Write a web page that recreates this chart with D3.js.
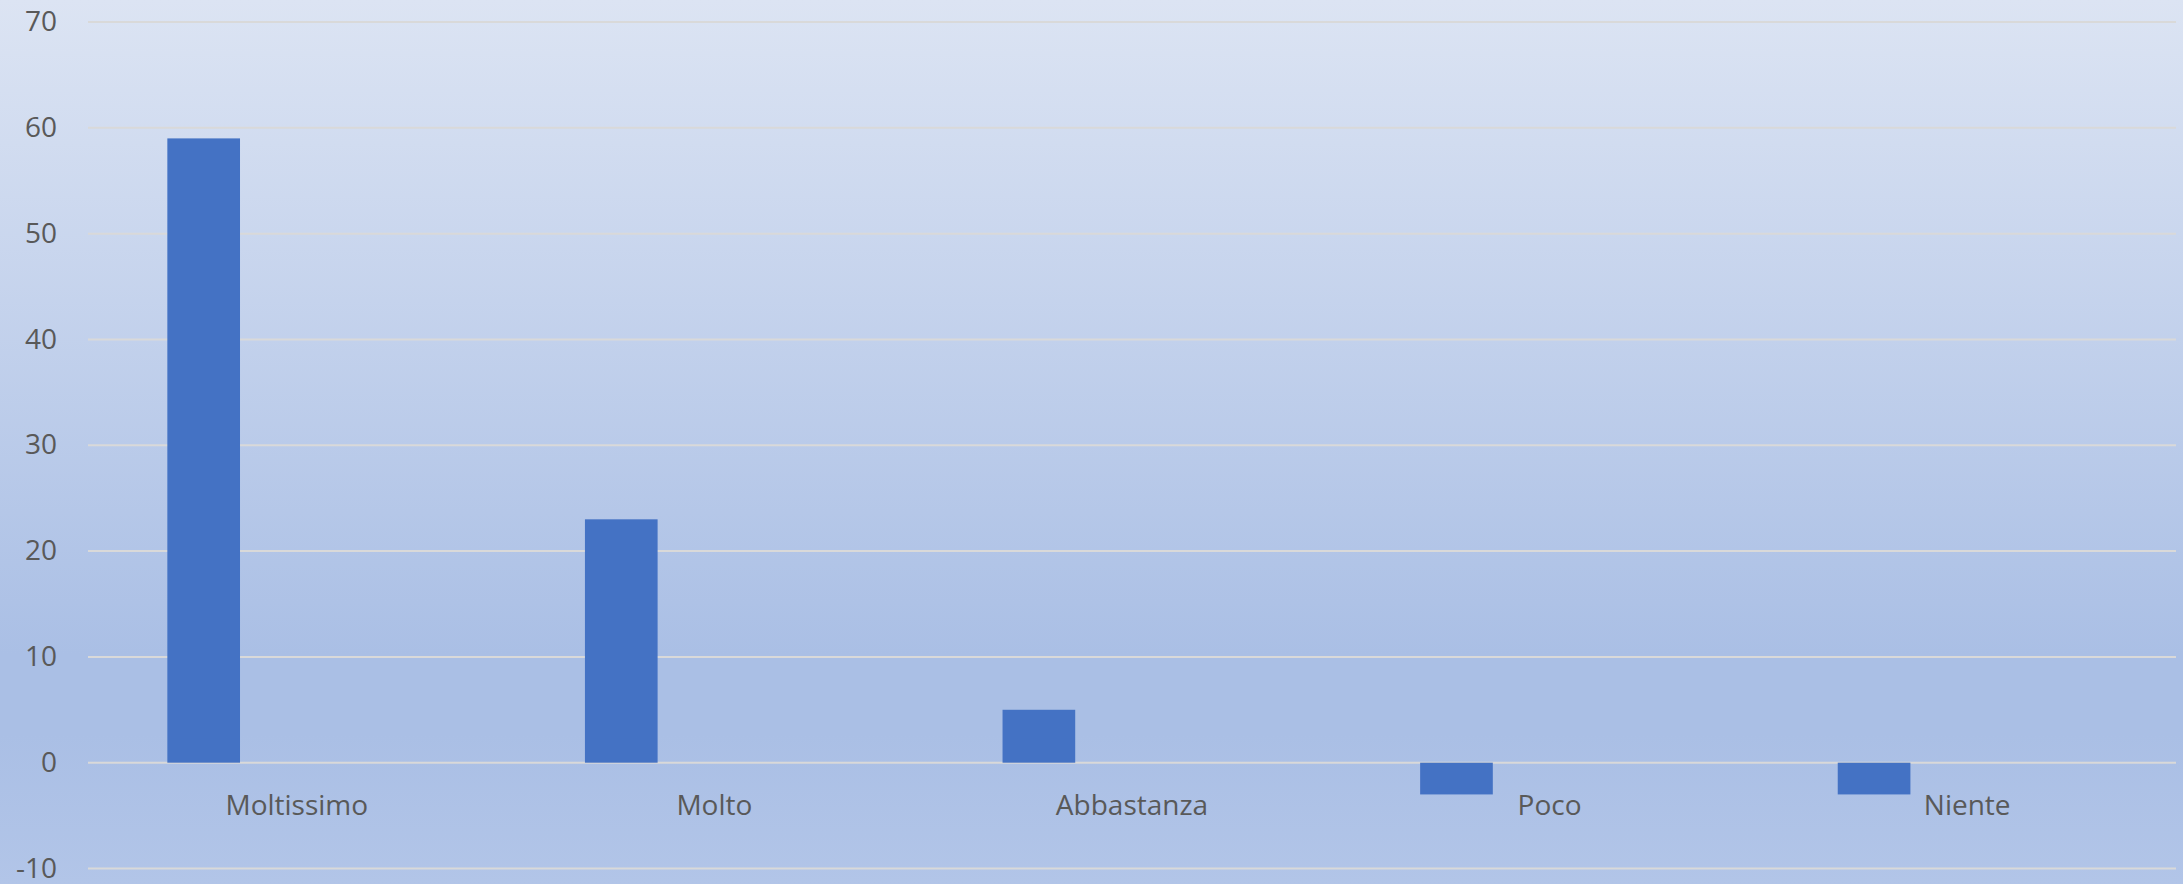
<!DOCTYPE html>
<html>
<head>
<meta charset="utf-8">
<script src="https://cdn.jsdelivr.net/npm/d3@7"></script>
<style>
  html, body { margin: 0; padding: 0; background: #fff; }
  svg { display: block; }
</style>
</head>
<body>
<svg id="chart" width="2183" height="884"></svg>
<script>
const categories = ["Moltissimo", "Molto", "Abbastanza", "Poco", "Niente"];
const values = [59, 23, 5, -3, -3];
const tickValues = [-10, 0, 10, 20, 30, 40, 50, 60, 70];

const W = 2183, H = 884;
const svg = d3.select("#chart");

const defs = svg.append("defs");
const grad = defs.append("linearGradient")
  .attr("id", "bg").attr("x1", 0).attr("y1", 0).attr("x2", 0).attr("y2", 1);
[["0%", "#dce4f3"], ["74%", "#aabfe5"], ["83%", "#aabfe5"], ["100%", "#b2c5e8"]]
  .forEach(([o, c]) => grad.append("stop").attr("offset", o).attr("stop-color", c));

svg.append("rect").attr("width", W).attr("height", H).attr("fill", "url(#bg)");

const x = d3.scaleBand().domain(categories).range([88, 2176]).padding(0);
const y = d3.scaleLinear().domain([-10, 70]).range([868.5, 22]);

// gridlines
svg.append("g").selectAll("line").data(tickValues).join("line")
  .attr("x1", x.range()[0]).attr("x2", x.range()[1])
  .attr("y1", d => y(d)).attr("y2", d => y(d))
  .attr("stroke", "#d9d9d9").attr("stroke-width", 2);

// y tick labels
svg.append("g").selectAll("text").data(tickValues).join("text")
  .attr("x", 57).attr("y", d => y(d)).attr("dy", "0.33em")
  .attr("text-anchor", "end")
  .attr("font-family", "'Open Sans', sans-serif").attr("font-size", 28)
  .attr("fill", "#595959")
  .text(d => d);

// bars: first series bar within each category band
const barOffset = x.bandwidth() * 0.19;
const barWidth = x.bandwidth() * 0.174;
svg.append("g").selectAll("rect").data(categories).join("rect")
  .attr("x", (d) => x(d) + barOffset)
  .attr("width", barWidth)
  .attr("y", (d, i) => Math.min(y(values[i]), y(0)))
  .attr("height", (d, i) => Math.abs(y(values[i]) - y(0)))
  .attr("fill", "#4472c4");

// category labels
svg.append("g").selectAll("text").data(categories).join("text")
  .attr("x", d => x(d) + x.bandwidth() / 2)
  .attr("y", 815)
  .attr("text-anchor", "middle")
  .attr("font-family", "'Open Sans', sans-serif").attr("font-size", 28)
  .attr("fill", "#595959")
  .text(d => d);
</script>
</body>
</html>
